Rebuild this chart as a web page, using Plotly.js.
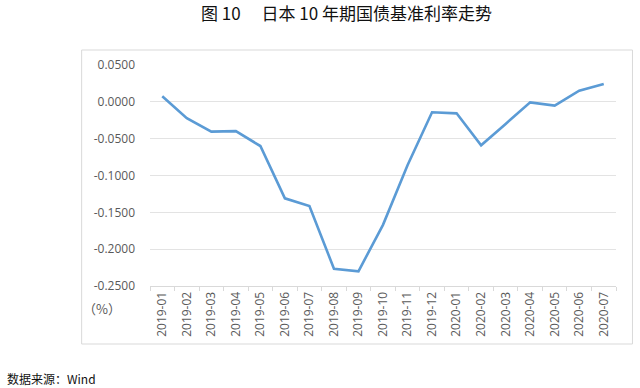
<!DOCTYPE html>
<html>
<head>
<meta charset="utf-8">
<script src="https://cdn.plot.ly/plotly-3.0.1.min.js"></script>
<style>html,body{margin:0;padding:0;background:#fff;}#chart{width:640px;height:388px;}</style>
</head>
<body>
<div id="chart"></div>
<script>
var months = ["2019-01","2019-02","2019-03","2019-04","2019-05","2019-06","2019-07","2019-08","2019-09","2019-10","2019-11","2019-12","2020-01","2020-02","2020-03","2020-04","2020-05","2020-06","2020-07"];
var yields = [0.0075, -0.0222, -0.0405, -0.0398, -0.0600, -0.1310, -0.1414, -0.2265, -0.2300, -0.1670, -0.0860, -0.0142, -0.0156, -0.0590, -0.0300, -0.0007, -0.0052, 0.0152, 0.0242];
var yTickVals = [0.05, 0, -0.05, -0.1, -0.15, -0.2, -0.25];
var yTickText = ["0.0500", "0.0000", "-0.0500", "-0.1000", "-0.1500", "-0.2000", "-0.2500"];
var titleText = "图 10 　日本 10 年期国债基准利率走势";
var sourceText = "数据来源：Wind";
var unitText = "（%）";

var L = 149.5, R = 616.5, T = 65, B = 286;
var W = R - L, H = B - T;
function px(x){ return (x - L) / W; }
function py(y){ return (B - y) / H; }

var trace = {
  x: months, y: yields, type: 'scatter', mode: 'lines',
  line: {color: '#5B9BD5', width: 2.6},
  hoverinfo: 'skip'
};

var layout = {
  width: 640, height: 388,
  margin: {l: L, r: 640 - R, t: T, b: 388 - B, pad: 0},
  paper_bgcolor: '#ffffff', plot_bgcolor: '#ffffff',
  showlegend: false,
  xaxis: {
    type: 'category', tickangle: -90,
    range: [-0.5, months.length - 0.5],
    tickfont: {family: 'Open Sans', size: 12, color: '#595959'},
    showgrid: false, zeroline: false,
    showline: true, linecolor: '#d9d9d9', linewidth: 1,
    ticks: 'outside', tickson: 'boundaries', ticklen: 4, tickcolor: '#d9d9d9',
    fixedrange: true
  },
  yaxis: {
    range: [-0.25, 0.05],
    tickvals: yTickVals, ticktext: yTickText,
    tickfont: {family: 'Open Sans', size: 12, color: '#595959'},
    showgrid: true, gridcolor: '#e3e3e3', gridwidth: 1,
    zeroline: false, showline: false, ticks: '',
    ticklabelstandoff: 14,
    fixedrange: true
  },
  shapes: [{
    type: 'rect', xref: 'paper', yref: 'paper',
    x0: px(81), x1: px(633), y0: py(344), y1: py(50),
    line: {color: '#d9d9d9', width: 1}, fillcolor: 'rgba(0,0,0,0)'
  }],
  annotations: [
    {text: titleText, xref: 'paper', yref: 'paper', x: px(199), y: py(13),
     xanchor: 'left', yanchor: 'middle', showarrow: false,
     font: {family: 'Noto Sans CJK SC', size: 17, color: '#111'}},
    {text: unitText, xref: 'paper', yref: 'paper', x: px(101), y: py(308),
     xanchor: 'center', yanchor: 'middle', showarrow: false,
     font: {family: 'Noto Sans CJK SC', size: 13, color: '#595959'}},
    {text: sourceText, xref: 'paper', yref: 'paper', x: px(4), y: py(378),
     xanchor: 'left', yanchor: 'middle', showarrow: false,
     font: {family: 'Noto Sans CJK SC', size: 12, color: '#111'}}
  ]
};

Plotly.newPlot('chart', [trace], layout, {staticPlot: true, displayModeBar: false});
</script>
</body>
</html>
